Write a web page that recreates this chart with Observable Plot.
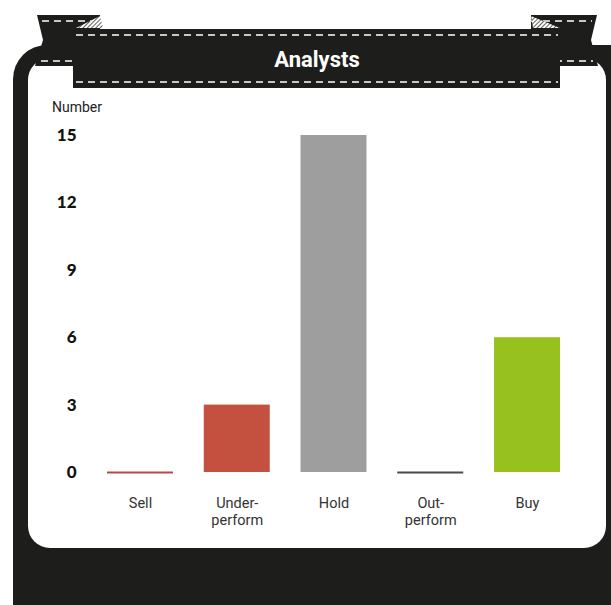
<!DOCTYPE html>
<html>
<head>
<meta charset="utf-8">
<script src="https://cdn.jsdelivr.net/npm/d3@7"></script>
<script src="https://cdn.jsdelivr.net/npm/@observablehq/plot@0.6"></script>
<style>
  html, body { margin: 0; padding: 0; background: #fff; }
  #wrap { position: relative; width: 611px; height: 605px; overflow: hidden; background: #fff; }
  #frame { position: absolute; left: 13px; top: 45px; width: 660px; height: 640px; background: #1d1d1b; border-radius: 34px; }
  #panel { position: absolute; left: 28px; top: 58px; width: 578px; height: 490px; background: #fff; border-radius: 22px; }
  #banner { position: absolute; left: 0; top: 0; }
  #ylab { position: absolute; left: 52px; top: 99px; font: 14px Roboto, sans-serif; color: #222; }
  #chart { position: absolute; left: 28px; top: 90px; }
</style>
</head>
<body>
<div id="wrap">
  <div id="frame"></div>
  <div id="panel"></div>
  <svg id="banner" width="611" height="100">
    <defs>
      <pattern id="hatch" width="3" height="3" patternUnits="userSpaceOnUse" patternTransform="rotate(45)">
        <rect width="3" height="3" fill="#fff"/>
        <line x1="0" y1="0" x2="0" y2="3" stroke="#1d1d1b" stroke-width="1.4"/>
      </pattern>
    </defs>
    <!-- left tail -->
    <polygon points="37,15 100,15 100,66 35,66 43,40" fill="#1d1d1b"/>
    <line x1="42" y1="21" x2="100" y2="21" stroke="#fff" stroke-width="1.3" stroke-dasharray="7,5"/>
    <line x1="41" y1="61" x2="100" y2="61" stroke="#fff" stroke-width="1.3" stroke-dasharray="7,5"/>
    <polygon points="100,16 103,28 76,28" fill="url(#hatch)"/>
    <!-- right tail -->
    <polygon points="531,15 597,15 591,40 598,66 531,66" fill="#1d1d1b"/>
    <line x1="531" y1="21" x2="592" y2="21" stroke="#fff" stroke-width="1.3" stroke-dasharray="7,5"/>
    <line x1="531" y1="61" x2="593" y2="61" stroke="#fff" stroke-width="1.3" stroke-dasharray="7,5"/>
    <polygon points="531,16 533,28 560,28" fill="url(#hatch)"/>
    <!-- main banner -->
    <rect x="73" y="29" width="487" height="59" fill="#1d1d1b"/>
    <line x1="76" y1="35" x2="558" y2="35" stroke="#fff" stroke-width="1.3" stroke-dasharray="7,5"/>
    <line x1="76" y1="82" x2="558" y2="82" stroke="#fff" stroke-width="1.3" stroke-dasharray="7,5"/>
    <text x="317" y="67" text-anchor="middle" fill="#fff" font-family="Roboto, sans-serif" font-weight="700" font-size="22">Analysts</text>
  </svg>
  <div id="ylab">Number</div>
  <div id="chart"></div>
</div>
<script>
const categories = ["Sell", "Underperform", "Hold", "Outperform", "Buy"];
const tickLabels = ["Sell", "Under-\nperform", "Hold", "Out-\nperform", "Buy"];
const values = [0, 3, 15, 0, 6];
const colors = ["#c0454a", "#c4503f", "#9d9e9d", "#4a4a4a", "#97c11f"];
const yTicks = [0, 3, 6, 9, 12, 15];

const data = categories.map((c, i) => ({category: c, value: values[i], color: colors[i]}));
const labelOf = new Map(categories.map((c, i) => [c, tickLabels[i]]));

const chart = Plot.plot({
  width: 578,
  height: 450,
  marginTop: 45,
  marginBottom: 68,
  marginLeft: 79,
  marginRight: 46,
  style: {background: "transparent", overflow: "visible"},
  x: {domain: categories, padding: 0.318, paddingOuter: 0, round: false, label: null},
  y: {domain: [0, 15], label: null},
  marks: [
    Plot.barY(data.filter(d => d.value > 0), {x: "category", y: "value", fill: "color"}),
    Plot.tickY(data.filter(d => d.value === 0), {x: "category", y: "value", stroke: "color", strokeWidth: 2}),
    Plot.axisY({ticks: yTicks, tickSize: 0, tickPadding: 31, fontSize: 17, fontWeight: 900, fontFamily: "Lato, sans-serif", fill: "#111", label: null}),
    Plot.axisX({tickSize: 0, tickPadding: 24, fontSize: 14.5, fontFamily: "Roboto, sans-serif", fill: "#333", lineHeight: 1.15, tickFormat: d => labelOf.get(d), label: null})
  ]
});
document.getElementById("chart").appendChild(chart);
</script>
</body>
</html>
